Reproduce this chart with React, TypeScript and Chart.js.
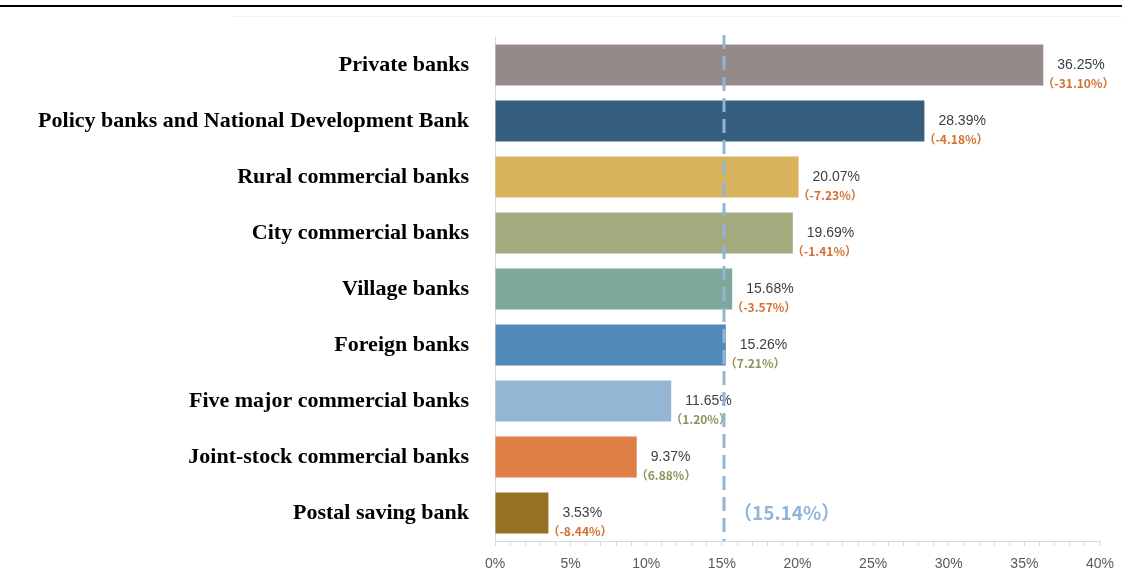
import React, { useEffect, useRef } from "react";
import { Chart, registerables } from "chart.js";

Chart.register(...registerables);

const categories = [
  "Private banks",
  "Policy banks and National Development Bank",
  "Rural commercial banks",
  "City commercial banks",
  "Village banks",
  "Foreign banks",
  "Five major commercial banks",
  "Joint-stock commercial banks",
  "Postal saving bank",
];
const values = [36.25, 28.39, 20.07, 19.69, 15.68, 15.26, 11.65, 9.37, 3.53];
const changes = [-31.1, -4.18, -7.23, -1.41, -3.57, 7.21, 1.2, 6.88, -8.44];
const barColors = [
  "#968a88",
  "#365e7e",
  "#d9b25d",
  "#a3aa7e",
  "#7ca99b",
  "#5189b9",
  "#94b5d4",
  "#de7f45",
  "#957125",
];
const average = 15.14;
const xTicksMax = 40;

const labelsPlugin = {
  id: "labelsPlugin",
  afterDatasetsDraw(chart: any) {
    const ctx = chart.ctx;
    const meta = chart.getDatasetMeta(0);
    ctx.save();
    meta.data.forEach((bar: any, i: number) => {
      const x = bar.x;
      const y = bar.y;
      ctx.textBaseline = "middle";
      ctx.textAlign = "left";
      ctx.font = "14px 'Liberation Sans', Arial, sans-serif";
      ctx.fillStyle = "#404040";
      ctx.fillText(values[i].toFixed(2) + "%", x + 14, y);
      const c = changes[i];
      ctx.font = "bold 12px 'Noto Sans CJK SC', 'Liberation Sans', sans-serif";
      ctx.fillStyle = c < 0 ? "#d2712f" : "#8a9659";
      ctx.fillText("（" + c.toFixed(2) + "%）", x - 1, y + 18);
    });
    // average dashed line
    const xs = chart.scales.x;
    const ax = xs.getPixelForValue(average);
    const area = chart.chartArea;
    ctx.beginPath();
    ctx.setLineDash([14, 7]);
    ctx.lineWidth = 3;
    ctx.strokeStyle = "#8fb5d8";
    ctx.moveTo(ax, area.top - 2);
    ctx.lineTo(ax, area.bottom);
    ctx.stroke();
    ctx.setLineDash([]);
    const lastBar = meta.data[meta.data.length - 1];
    ctx.font = "bold 19px 'Noto Sans CJK SC', 'Liberation Sans', sans-serif";
    ctx.fillStyle = "#8fb5d8";
    ctx.textAlign = "left";
    ctx.textBaseline = "middle";
    ctx.fillText("（" + average.toFixed(2) + "%）", ax + 9, lastBar.y);
    ctx.restore();
  },
};

export default function App() {
  const ref = useRef<HTMLCanvasElement | null>(null);
  useEffect(() => {
    if (!ref.current) return;
    const chart = new Chart(ref.current, {
      type: "bar",
      data: {
        labels: categories,
        datasets: [
          {
            data: values,
            backgroundColor: barColors,
            borderWidth: 0,
            barPercentage: 0.73,
            categoryPercentage: 1,
          },
        ],
      },
      options: {
        indexAxis: "y",
        responsive: false,
        animation: false,
        layout: { padding: { top: 37, right: 22, left: 0, bottom: 0 } },
        plugins: {
          legend: { display: false },
          tooltip: { enabled: false },
        },
        scales: {
          x: {
            min: 0,
            max: xTicksMax,
            afterFit: (s: any) => {
              s.height = 35;
              s.paddingLeft = 0;
              s.paddingRight = 0;
            },
            ticks: {
              stepSize: 1,
              autoSkip: false,
              maxRotation: 0,
              padding: 10,
              color: "#595959",
              font: { family: "'Liberation Sans', Arial, sans-serif", size: 14 },
              callback: (v: any) => (Number(v) % 5 === 0 ? v + "%" : ""),
            },
            grid: {
              drawOnChartArea: false,
              drawTicks: true,
              tickLength: 5,
              color: "#d9d9d9",
            },
            border: { display: true, color: "#d9d9d9", width: 1 },
          },
          y: {
            afterFit: (s: any) => {
              s.width = 495;
              s.paddingTop = 0;
              s.paddingBottom = 0;
            },
            ticks: {
              padding: 26,
              color: "#000000",
              font: {
                family: "'Liberation Serif', 'Times New Roman', serif",
                size: 22,
                weight: "bold",
              },
            },
            grid: { display: false, drawTicks: false },
            border: { display: true, color: "#d9d9d9", width: 1 },
          },
        },
      },
      plugins: [labelsPlugin],
    });
    return () => chart.destroy();
  }, []);
  return (
    <div style={{ position: "fixed", left: 0, top: 0, width: 1122, height: 576, background: "#fff" }}>
      <div style={{ position: "absolute", left: 0, top: 5, width: 1122, height: 2, background: "#000" }} />
      <div style={{ position: "absolute", left: 232, top: 16, width: 890, height: 1, background: "#f0f0f0" }} />
      <canvas ref={ref} width={1122} height={576} style={{ position: "absolute", left: 0, top: 0, display: "block" }} />
    </div>
  );
}
